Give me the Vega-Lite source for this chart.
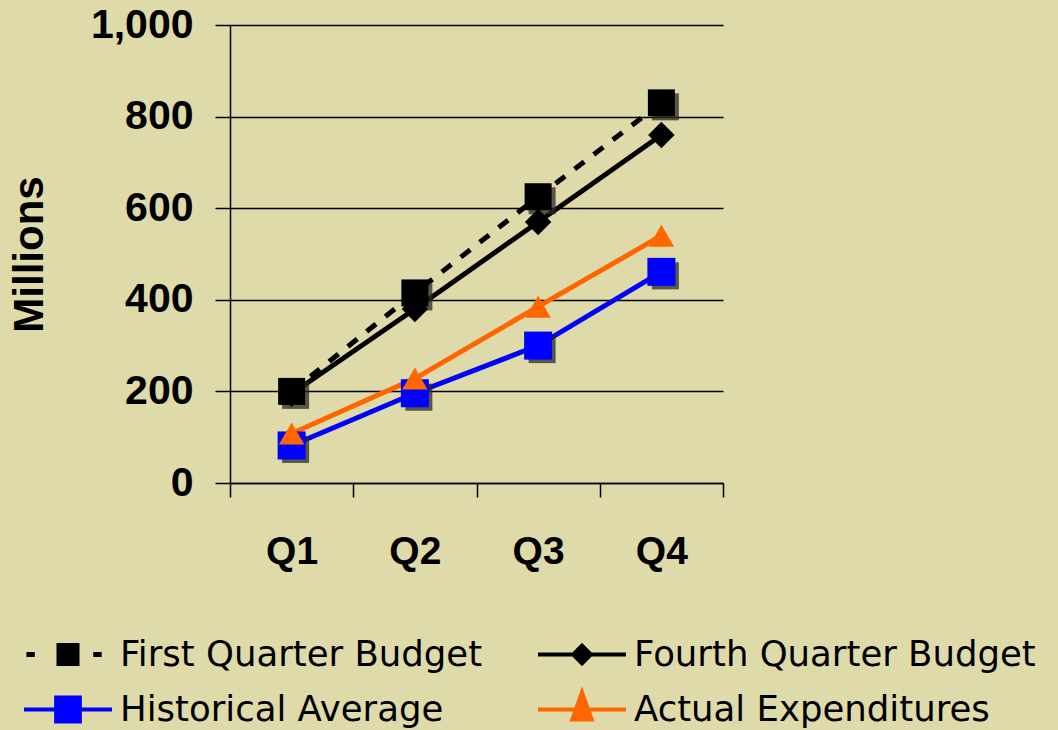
{
  "$schema": "https://vega.github.io/schema/vega-lite/v6.json",
  "width": 493,
  "height": 458,
  "autosize": {"type": "none"},
  "padding": {"left": 230, "top": 25, "right": 335, "bottom": 247},
  "background": "#dfdaa9",
  "config": {"view": {"stroke": null}},
  "data": {
    "values": [
      {"quarter": "Q1", "series": "First Quarter Budget", "value": 200},
      {"quarter": "Q2", "series": "First Quarter Budget", "value": 415},
      {"quarter": "Q3", "series": "First Quarter Budget", "value": 625},
      {"quarter": "Q4", "series": "First Quarter Budget", "value": 830},
      {"quarter": "Q1", "series": "Fourth Quarter Budget", "value": 195},
      {"quarter": "Q2", "series": "Fourth Quarter Budget", "value": 380},
      {"quarter": "Q3", "series": "Fourth Quarter Budget", "value": 570},
      {"quarter": "Q4", "series": "Fourth Quarter Budget", "value": 760},
      {"quarter": "Q1", "series": "Historical Average", "value": 82},
      {"quarter": "Q2", "series": "Historical Average", "value": 196},
      {"quarter": "Q3", "series": "Historical Average", "value": 300},
      {"quarter": "Q4", "series": "Historical Average", "value": 461},
      {"quarter": "Q1", "series": "Actual Expenditures", "value": 108},
      {"quarter": "Q2", "series": "Actual Expenditures", "value": 228},
      {"quarter": "Q3", "series": "Actual Expenditures", "value": 385},
      {"quarter": "Q4", "series": "Actual Expenditures", "value": 540}
    ]
  },
  "encoding": {
    "x": {
      "field": "quarter",
      "type": "ordinal",
      "bandPosition": 0.5,
      "scale": {"type": "band", "paddingInner": 0, "paddingOuter": 0},
      "axis": {
        "title": null,
        "labelAngle": 0,
        "labelFont": "Liberation Sans",
        "labelFontWeight": "bold",
        "labelFontSize": 39,
        "labelColor": "#000000",
        "labelPadding": 35,
        "tickBand": "extent",
        "tickSize": 14,
        "tickColor": "#000000",
        "tickWidth": 1.5,
        "domainColor": "#000000",
        "domainWidth": 1.5,
        "grid": false
      }
    },
    "y": {
      "field": "value",
      "type": "quantitative",
      "scale": {"domain": [0, 1000], "nice": false},
      "axis": {
        "title": "Millions",
        "titleFont": "Liberation Sans",
        "titleFontWeight": "bold",
        "titleFontSize": 42,
        "titleColor": "#000000",
        "titlePadding": 39,
        "values": [0, 200, 400, 600, 800, 1000],
        "format": ",.0f",
        "labelFont": "Liberation Sans",
        "labelFontWeight": "bold",
        "labelFontSize": 41,
        "labelColor": "#000000",
        "labelPadding": 22,
        "tickSize": 15,
        "tickColor": "#000000",
        "tickWidth": 1.5,
        "domainColor": "#000000",
        "domainWidth": 1.5,
        "grid": true,
        "gridColor": "#000000",
        "gridWidth": 1.5,
        "gridOpacity": 1
      }
    }
  },
  "layer": [
    {
      "transform": [{"filter": "datum.series !== 'First Quarter Budget'"}],
      "mark": {"type": "line", "strokeWidth": 5},
      "encoding": {
        "color": {
          "field": "series",
          "type": "nominal",
          "scale": {
            "domain": ["First Quarter Budget", "Fourth Quarter Budget", "Historical Average", "Actual Expenditures"],
            "range": ["#000000", "#000000", "#0000ff", "#ff6600"]
          },
          "legend": {
            "title": null,
            "orient": "none",
            "legendX": -208,
            "legendY": 602,
            "direction": "horizontal",
            "columns": 2,
            "columnPadding": 53,
            "rowPadding": 0,
            "clipHeight": 55,
            "symbolSize": 7744,
            "labelFont": "DejaVu Sans",
            "labelFontSize": 35.5,
            "labelColor": "#000000",
            "labelLimit": 700,
            "labelOffset": 6,
            "encode": {
              "symbols": {
                "update": {
                  "shape": {"signal": "datum.value === 'First Quarter Budget' ? 'M-0.9,-0.01H-0.8V0.01H-0.9ZM-0.216,-0.216H0.216V0.216H-0.216ZM0.62,-0.01H0.72V0.01H0.62Z' : datum.value === 'Fourth Quarter Budget' ? 'M-1,0H1M0,-0.2L0.2,0L0,0.2L-0.2,0Z' : datum.value === 'Historical Average' ? 'M-1,0H1M-0.27,-0.27H0.27V0.27H-0.27Z' : 'M-1,0H1M0,-0.39L0.22,0.23H-0.22Z'"},
                  "fill": {"signal": "datum.value === 'Historical Average' ? '#0000ff' : datum.value === 'Actual Expenditures' ? '#ff6600' : '#000000'"},
                  "stroke": {"signal": "datum.value === 'Historical Average' ? '#0000ff' : datum.value === 'Actual Expenditures' ? '#ff6600' : '#000000'"},
                  "strokeWidth": {"value": 4},
                  "strokeDash": {"value": []},
                  "size": {"value": 7744},
                  "opacity": {"value": 1},
                  "fillOpacity": {"value": 1}
                }
              }
            }
          }
        }
      }
    },
    {
      "transform": [{"filter": "datum.series === 'First Quarter Budget'"}],
      "mark": {"type": "line", "strokeWidth": 5, "color": "#000000", "strokeDash": [12, 12]}
    },
    {
      "transform": [{"filter": "datum.series === 'First Quarter Budget' || datum.series === 'Historical Average'"}],
      "mark": {"type": "point", "shape": "square", "filled": true, "size": 729, "color": "#2b2b22", "opacity": 0.75, "xOffset": 4, "yOffset": 4}
    },
    {
      "transform": [{"filter": "datum.series === 'Fourth Quarter Budget'"}],
      "mark": {"type": "point", "shape": "diamond", "filled": true, "size": 700, "color": "#000000", "opacity": 1}
    },
    {
      "transform": [{"filter": "datum.series === 'First Quarter Budget'"}],
      "mark": {"type": "point", "shape": "square", "filled": true, "size": 729, "color": "#000000", "opacity": 1}
    },
    {
      "transform": [{"filter": "datum.series === 'Historical Average'"}],
      "mark": {"type": "point", "shape": "square", "filled": true, "size": 784, "color": "#0000ff", "opacity": 1}
    },
    {
      "transform": [{"filter": "datum.series === 'Actual Expenditures'"}],
      "mark": {"type": "point", "shape": "triangle-up", "filled": true, "size": 650, "color": "#ff6600", "opacity": 1}
    }
  ]
}
